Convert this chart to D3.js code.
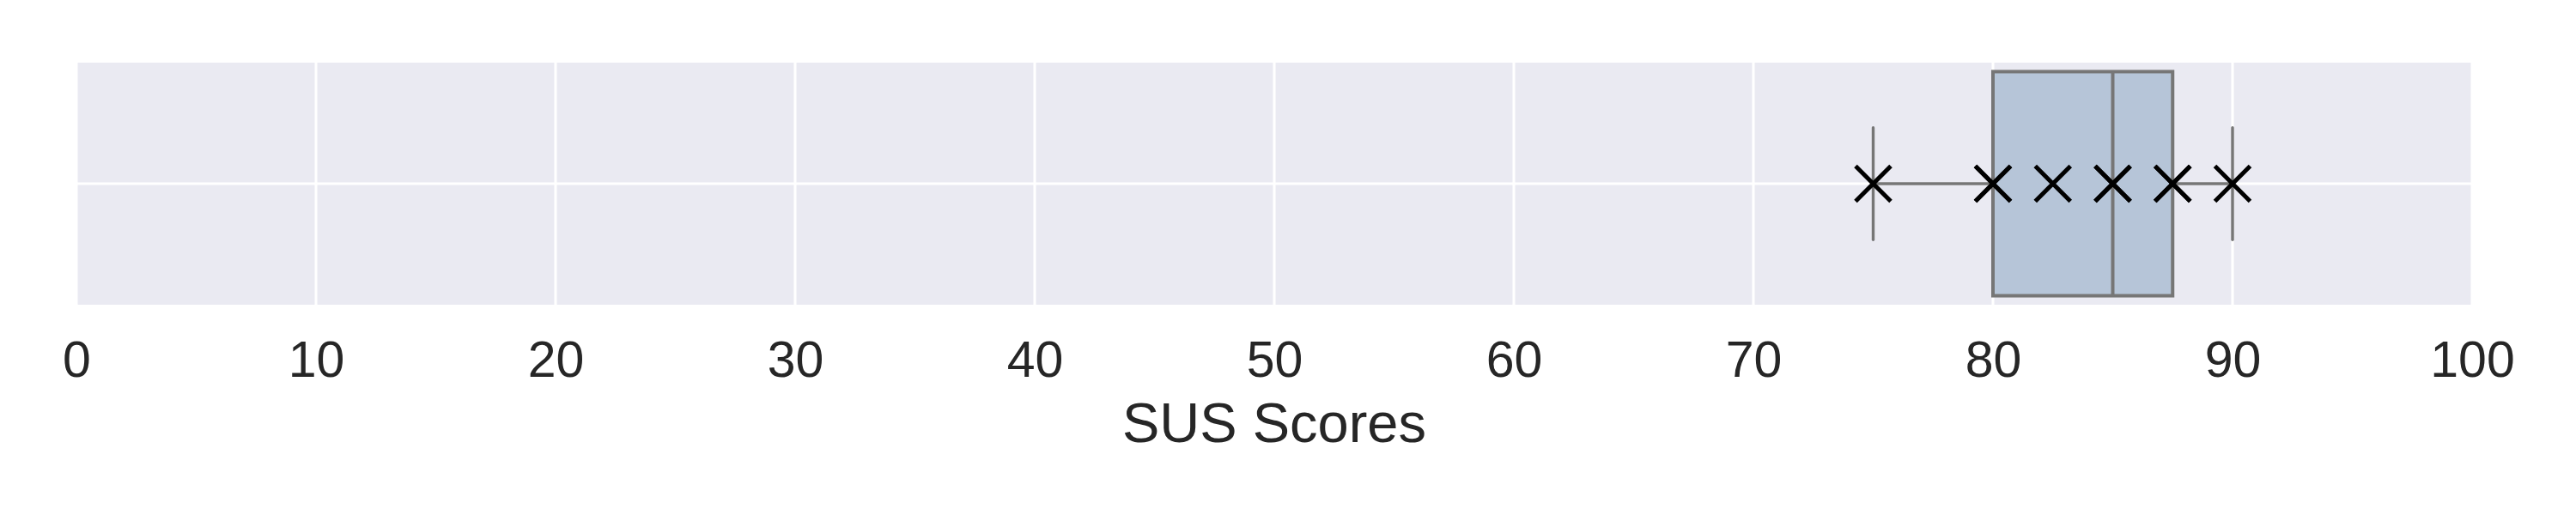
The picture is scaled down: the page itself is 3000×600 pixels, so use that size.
<!DOCTYPE html>
<html>
<head>
<meta charset="utf-8">
<script src="https://cdn.jsdelivr.net/npm/d3@7"></script>
<style>
  body { margin: 0; background: #fff; }
  text { font-family: "Liberation Sans", Arial, sans-serif; fill: #262626; }
</style>
</head>
<body>
<div id="my_dataviz"></div>
<script>
// SUS scores of the participants
const scores = [75, 80, 80, 82.5, 85, 85, 87.5, 87.5, 90];
const categories = ["SUS"];
const xTicks = [0, 10, 20, 30, 40, 50, 60, 70, 80, 90, 100];
const xLabel = "SUS Scores";

const margin = {top: 73, right: 121, bottom: 245, left: 89},
    width = 3000 - margin.left - margin.right,
    height = 600 - margin.top - margin.bottom;

const svg = d3.select("#my_dataviz")
  .append("svg")
    .attr("width", width + margin.left + margin.right)
    .attr("height", height + margin.top + margin.bottom)
  .append("g")
    .attr("transform", `translate(${margin.left}, ${margin.top})`);

const x = d3.scaleLinear()
  .domain([0, 100])
  .range([0, width]);

const y = d3.scaleBand()
  .domain(categories)
  .range([0, height])
  .paddingInner(0)
  .paddingOuter(0.04);

// background + grid
svg.append("rect")
  .attr("width", width)
  .attr("height", height)
  .attr("fill", "#eaeaf2");

svg.append("g")
  .selectAll("line")
  .data(xTicks)
  .join("line")
    .attr("x1", d => x(d))
    .attr("x2", d => x(d))
    .attr("y1", 0)
    .attr("y2", height)
    .attr("stroke", "#fff")
    .attr("stroke-width", 3);

svg.append("g")
  .selectAll("line")
  .data(categories)
  .join("line")
    .attr("x1", 0)
    .attr("x2", width)
    .attr("y1", d => y(d) + y.bandwidth() / 2)
    .attr("y2", d => y(d) + y.bandwidth() / 2)
    .attr("stroke", "#fff")
    .attr("stroke-width", 3);

// box stats
const sorted = scores.slice().sort(d3.ascending);
const q1 = d3.quantile(sorted, 0.25),
      med = d3.quantile(sorted, 0.5),
      q3 = d3.quantile(sorted, 0.75),
      iqr = q3 - q1;
const lo = d3.min(sorted.filter(d => d >= q1 - 1.5 * iqr)),
      hi = d3.max(sorted.filter(d => d <= q3 + 1.5 * iqr));

const edge = "#767676";
const cy = y("SUS") + y.bandwidth() / 2;
const bw = y.bandwidth();

const box = svg.append("g");

// whiskers
box.selectAll(".whisker")
  .data([[lo, q1], [q3, hi]])
  .join("line")
    .attr("class", "whisker")
    .attr("x1", d => x(d[0]))
    .attr("x2", d => x(d[1]))
    .attr("y1", cy)
    .attr("y2", cy)
    .attr("stroke", edge)
    .attr("stroke-width", 3.4);

box.selectAll(".cap")
  .data([lo, hi])
  .join("line")
    .attr("class", "cap")
    .attr("x1", d => x(d))
    .attr("x2", d => x(d))
    .attr("y1", cy - bw / 4)
    .attr("y2", cy + bw / 4)
    .attr("stroke", edge)
    .attr("stroke-width", 3.4)
    .attr("stroke-linecap", "round");

box.append("rect")
  .attr("x", x(q1))
  .attr("y", y("SUS"))
  .attr("width", x(q3) - x(q1))
  .attr("height", bw)
  .attr("fill", "#b6c5d8")
  .attr("stroke", edge)
  .attr("stroke-width", 4);

box.append("line")
  .attr("x1", x(med))
  .attr("x2", x(med))
  .attr("y1", y("SUS"))
  .attr("y2", y("SUS") + bw)
  .attr("stroke", edge)
  .attr("stroke-width", 4);

// x markers for the individual scores
const r = 20.5;
svg.append("g")
  .selectAll("path")
  .data(scores)
  .join("path")
    .attr("d", d => `M${x(d) - r},${cy - r}L${x(d) + r},${cy + r}M${x(d) - r},${cy + r}L${x(d) + r},${cy - r}`)
    .attr("stroke", "#000")
    .attr("stroke-width", 5)
    .attr("fill", "none");

// axis
const xAxis = svg.append("g")
  .attr("transform", `translate(0, ${height})`)
  .call(d3.axisBottom(x).tickValues(xTicks).tickSize(0).tickPadding(42));
xAxis.select(".domain").remove();
xAxis.selectAll("text")
  .attr("font-size", 59)
  .attr("font-family", "Liberation Sans, Arial, sans-serif")
  .attr("fill", "#262626");

svg.append("text")
  .attr("x", width / 2)
  .attr("y", 515 - margin.top)
  .attr("text-anchor", "middle")
  .attr("font-size", 65)
  .text(xLabel);
</script>
</body>
</html>
